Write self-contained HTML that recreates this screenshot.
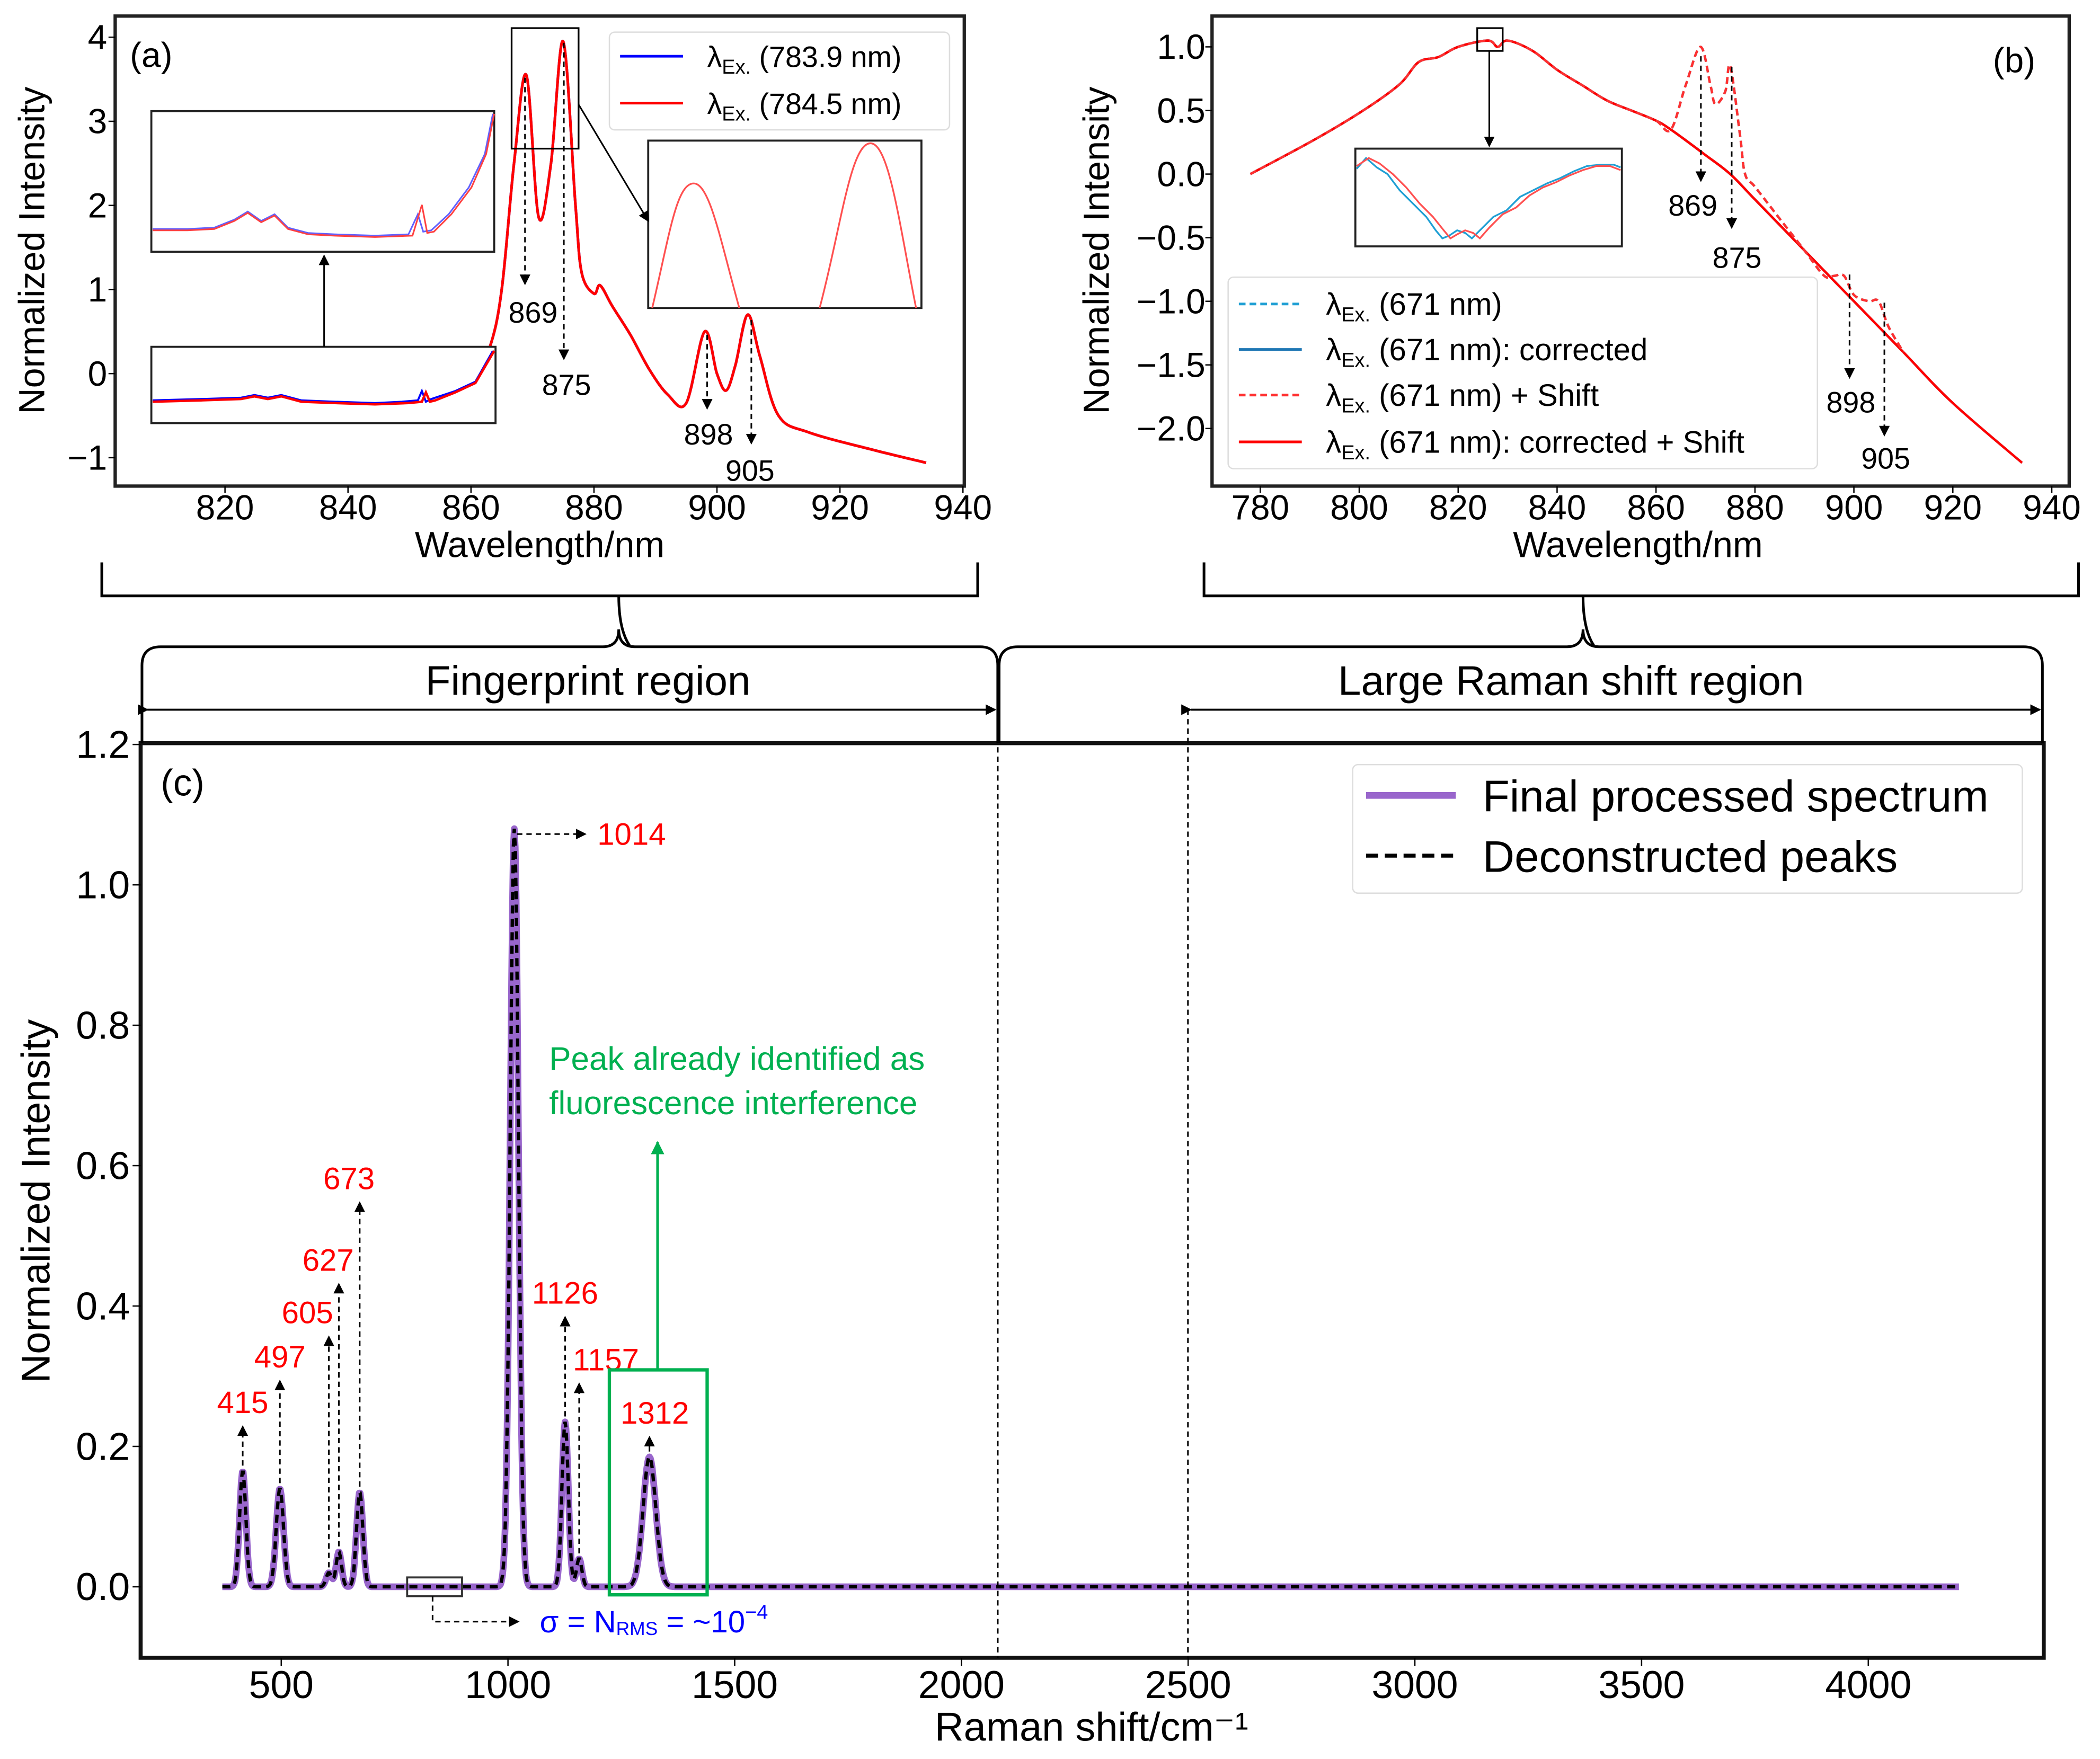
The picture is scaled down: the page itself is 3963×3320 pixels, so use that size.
<!DOCTYPE html>
<html><head><meta charset="utf-8"><style>
html,body{margin:0;padding:0;background:#fff}
svg{display:block;font-family:"Liberation Sans","DejaVu Sans",sans-serif}
</style></head><body>
<svg id="fig" xmlns="http://www.w3.org/2000/svg" width="3963" height="3320" viewBox="0 0 1568 1313.6">
<defs>
<marker id="ah" markerWidth="8" markerHeight="8" refX="7" refY="4" orient="auto" markerUnits="userSpaceOnUse"><path d="M0,0 L8,4 L0,8 z" fill="#000"/></marker>
<marker id="ahg" markerWidth="10" markerHeight="10" refX="9" refY="5" orient="auto" markerUnits="userSpaceOnUse"><path d="M0,0 L10,5 L0,10 z" fill="#00b050"/></marker>
<clipPath id="ca"><rect x="86" y="12" width="634" height="351"/></clipPath>
<clipPath id="cb"><rect x="905" y="12" width="640" height="351"/></clipPath>
<clipPath id="cc"><rect x="105" y="555" width="1421" height="683"/></clipPath>
</defs>
<g id="A"></g>
<g id="B"></g>
<g id="C"></g>
<g id="static" fill="none" stroke="#000" stroke-width="2">
<path d="M76,420 V445 H730 V420 M462,445 Q462,470 470,482"/>
<path d="M899,420 V445 H1552 V420 M1182,445 Q1182,470 1190,482"/>
<path d="M106,555 V497 Q106,483 120,483 H450 Q462,483 462,470 Q462,483 474,483 H732 Q745,483 745,497 V555"/>
<path d="M746,555 V497 Q746,483 760,483 H1170 Q1182,483 1182,470 Q1182,483 1194,483 H1511 Q1525,483 1525,497 V555"/>
<line x1="110" y1="530" x2="743" y2="530" marker-end="url(#ah)" marker-start="url(#ah)" stroke-width="1.5"/>
<line x1="889" y1="530" x2="1523" y2="530" marker-end="url(#ah)" marker-start="url(#ah)" stroke-width="1.5"/>
<line x1="745" y1="530" x2="745" y2="1238" stroke-width="1.2" stroke-dasharray="4,3"/>
<line x1="887" y1="530" x2="887" y2="1238" stroke-width="1.2" stroke-dasharray="4,3"/>
</g>
<text x="439" y="519" font-size="31" text-anchor="middle">Fingerprint region</text>
<text x="1173" y="519" font-size="31" text-anchor="middle">Large Raman shift region</text>
</svg>
<script>
// ---------- DATA ----------
const aWave = [808,810,820,830,840,850,852,853,855,860,863,865,867,869,871,873,875,877,878,880,881,883,886,889,892,895,898,900,901.5,903,905,907,910,915,925,934];
const aInt  = [-0.3,-0.3,-0.25,-0.28,-0.3,-0.3,-0.2,-0.3,-0.28,-0.1,0.3,1.0,2.5,3.55,1.86,2.5,3.95,2.0,1.2,0.95,1.05,0.8,0.45,0.05,-0.25,-0.35,0.5,0.0,-0.2,0.1,0.7,0.2,-0.5,-0.7,-0.9,-1.06];
const aTicksX = [820,840,860,880,900,920,940];
const aTicksY = [4,3,2,1,0,-1];
const bWave = [778,790,800,808,812,816,820,826,828,830,835,840,845,850,855,860,863];
const bInt  = [0.0,0.25,0.48,0.7,0.88,0.92,1.0,1.05,1.0,1.05,0.97,0.82,0.7,0.58,0.5,0.42,0.35];
const bRawWave = [863,866,869,871,872,874,875,877,878,880,885,890,894,896,898,900,903,905,907,910];
const bRawInt  = [0.35,0.7,1.0,0.7,0.55,0.65,0.85,0.3,0.0,-0.1,-0.35,-0.6,-0.8,-0.8,-0.8,-0.95,-1.0,-1.0,-1.2,-1.4];
const bCorWave = [863,870,875,880,890,900,910,920,934];
const bCorInt  = [0.35,0.15,0.0,-0.2,-0.6,-1.0,-1.4,-1.8,-2.27];
const bTicksX = [780,800,820,840,860,880,900,920,940];
const bTicksY = [1.0,0.5,0.0,-0.5,-1.0,-1.5,-2.0];
const cPeakPos = [415,497,605,627,673,1014,1126,1157,1312];
const cPeakAmp = [0.165,0.14,0.02,0.05,0.135,1.08,0.235,0.04,0.185];
const cPeakWid = [7,8,6,6,7,9,7,6,14];
const cTicksX = [500,1000,1500,2000,2500,3000,3500,4000];
const cTicksY = [1.2,1.0,0.8,0.6,0.4,0.2,0.0];
const cLabels = ['415','497','605','627','673','1014','1126','1157','1312'];
const cLabelY = [0.255,0.32,0.383,0.458,0.574,1.08,0.411,0.316,0.24];

const NS='http://www.w3.org/2000/svg';
function mk(parent,tag,attrs,text){const e=document.createElementNS(NS,tag);for(const k in attrs)e.setAttribute(k,attrs[k]);if(text!==undefined)e.textContent=text;parent.appendChild(e);return e;}
const A=document.getElementById('A'),B=document.getElementById('B'),C=document.getElementById('C');

const ax=v=>168+(v-820)*551/120, ay=v=>279-v*62.8;
const bx=v=>941+(v-780)*591/160, by=v=>130-v*95;
const cx=v=>210+(v-500)*1185/3500, cy=v=>1185-v*524.2;

function pts(xs,ys,fx,fy){return xs.map((x,i)=>fx(x).toFixed(1)+','+fy(ys[i]).toFixed(1)).join(' ');}
function smooth(xs,ys,fx,fy){
  const P=xs.map((x,i)=>[fx(x),fy(ys[i])]);
  let d='M'+P[0][0].toFixed(1)+','+P[0][1].toFixed(1);
  for(let i=0;i<P.length-1;i++){
    const p0=P[Math.max(0,i-1)],p1=P[i],p2=P[i+1],p3=P[Math.min(P.length-1,i+2)];
    const c1=[p1[0]+(p2[0]-p0[0])/6,p1[1]+(p2[1]-p0[1])/6];
    const c2=[p2[0]-(p3[0]-p1[0])/6,p2[1]-(p3[1]-p1[1])/6];
    d+=' C'+c1[0].toFixed(1)+','+c1[1].toFixed(1)+' '+c2[0].toFixed(1)+','+c2[1].toFixed(1)+' '+p2[0].toFixed(1)+','+p2[1].toFixed(1);
  }
  return d;
}

// ---------- PANEL A ----------
let g=mk(A,'g',{'clip-path':'url(#ca)'});
let l=mk(g,'path',{d:smooth(aWave,aInt,ax,ay),fill:'none',stroke:'#0000ff','stroke-width':2});

l=mk(g,'path',{d:smooth(aWave,aInt,ax,ay),fill:'none',stroke:'#ff0000','stroke-width':2});

let fr=mk(A,'rect',{x:86,y:12,width:634,height:351,fill:'none',stroke:'#222','stroke-width':2.5});

aTicksX.forEach(v=>{let t=mk(A,'text',{x:ax(v),y:388,'font-size':26,'text-anchor':'middle'},v);mk(A,'line',{x1:ax(v),x2:ax(v),y1:363,y2:368,stroke:'#000'});});
aTicksY.forEach(v=>{let t=mk(A,'text',{x:80,y:ay(v)+9,'font-size':26,'text-anchor':'end'},v<0?'\u2212'+(-v):v);mk(A,'line',{x1:81,x2:86,y1:ay(v),y2:ay(v),stroke:'#000'});});
let t=mk(A,'text',{x:403,y:416,'font-size':27,'text-anchor':'middle'},'Wavelength/nm');
t=mk(A,'text',{x:0,y:0,'font-size':27,'text-anchor':'middle',transform:'translate(33,187) rotate(-90)'},'Normalized Intensity');
t=mk(A,'text',{x:97,y:50,'font-size':26},'(a)');
let lg=mk(A,'g',{});
mk(lg,'rect',{x:455,y:24,width:254,height:73,rx:4,fill:'#fff',stroke:'#ddd'});
[['#0000ff','783.9 nm',42],['#ff0000','784.5 nm',77]].forEach(d=>{mk(lg,'line',{x1:463,x2:510,y1:d[2],y2:d[2],stroke:d[0],'stroke-width':2});let tt=mk(lg,'text',{x:528,y:d[2]+8,'font-size':22});tt.innerHTML='λ<tspan font-size="15" dy="5">Ex.</tspan><tspan dy="-5"> (' + d[1] + ')</tspan>';});
function inset(par,x,y,w,h,name){let r=mk(par,'rect',{x:x,y:y,width:w,height:h,fill:'#fff',stroke:'#222','stroke-width':1.5});}
inset(A,113,259,257,57,'inset-lower-a');
mk(A,'polyline',{points:'114,299 150,298 180,297 190,295 200,297 210,295 225,299 250,300 280,301 300,300 312,299 315,292 318,300 322,298 340,292 355,285 368,262',fill:'none',stroke:'#0000ff','stroke-width':1.5});
mk(A,'polyline',{points:'114,300 150,299 180,298 190,296 200,298 210,296 225,300 250,301 280,302 305,301 315,300 318,293 321,300 325,299 340,293 355,286 369,262',fill:'none',stroke:'#ff0000','stroke-width':1.8});
inset(A,113,83,256,105,'inset-upper-a');
mk(A,'polyline',{points:'114,171 140,171 160,170 175,164 185,158 195,165 205,160 215,170 230,174 250,175 280,176 305,175 312,160 316,173 322,172 335,160 350,140 362,115 368,85',fill:'none',stroke:'#6060ff','stroke-width':1.2});
mk(A,'polyline',{points:'114,172 140,172 160,171 175,165 185,159 195,166 205,161 215,171 230,175 250,176 280,177 308,176 315,153 319,174 324,173 337,160 352,140 363,115 369,85',fill:'none',stroke:'#ff4040','stroke-width':1.2});
let ar=mk(A,'line',{x1:242,y1:259,x2:242,y2:191,stroke:'#000','stroke-width':1.2,'marker-end':'url(#ah)'});
inset(A,484,105,204,125,'inset-right-a');
mk(A,'path',{d:'M487,230 C500,175 505,137 518,137 C530,137 538,180 552,230 M612,230 C628,170 635,107 650,107 C664,107 672,170 684,230',fill:'none',stroke:'#ff5050','stroke-width':1.3});
mk(A,'rect',{x:382,y:21,width:50,height:90,fill:'none',stroke:'#000','stroke-width':1.3});
mk(A,'line',{x1:432,y1:78,x2:484,y2:165,stroke:'#000','stroke-width':1.2,'marker-end':'url(#ah)'});
function darrow(par,x,y1,y2,lab,lx,ly,name){let a=mk(par,'line',{x1:x,y1:y1,x2:x,y2:y2,stroke:'#000','stroke-width':1.2,'stroke-dasharray':'4,3','marker-end':'url(#ah)'});let tt=mk(par,'text',{x:lx,y:ly,'font-size':22,'text-anchor':'middle'},lab);}
darrow(A,392,58,212,'869',398,241,'peak-869-a');
darrow(A,421,32,268,'875',423,295,'peak-875-a');
darrow(A,528,250,305,'898',529,332,'peak-898-a');
darrow(A,561,239,331,'905',560,359,'peak-905-a');

// ---------- PANEL B ----------
g=mk(B,'g',{'clip-path':'url(#cb)'});
const fullW=bWave.concat(bRawWave.slice(1)), fullI=bInt.concat(bRawInt.slice(1));
const corW=bWave.concat(bCorWave.slice(1)), corI=bInt.concat(bCorInt.slice(1));
[['#1f77b4',corW,corI,null,'series-671-corrected'],['#ff0000',corW,corI,null,'series-671-corrected-shift'],['#1f9fd4',fullW,fullI,'5,3','series-671'],['#ff3030',fullW,fullI,'5,3','series-671-shift']].forEach(s=>{let p=mk(g,'path',{d:smooth(s[1],s[2],bx,by),fill:'none',stroke:s[0],'stroke-width':1.8});if(s[3])p.setAttribute('stroke-dasharray',s[3]);});
fr=mk(B,'rect',{x:905,y:12,width:640,height:351,fill:'none',stroke:'#222','stroke-width':2.5});

bTicksX.forEach(v=>{let tt=mk(B,'text',{x:bx(v),y:388,'font-size':26,'text-anchor':'middle'},v);mk(B,'line',{x1:bx(v),x2:bx(v),y1:363,y2:368,stroke:'#000'});});
bTicksY.forEach(v=>{let tt=mk(B,'text',{x:900,y:by(v)+9,'font-size':26,'text-anchor':'end'},(v<0?'\u2212':'')+Math.abs(v).toFixed(1));mk(B,'line',{x1:900,x2:905,y1:by(v),y2:by(v),stroke:'#000'});});
t=mk(B,'text',{x:1223,y:416,'font-size':27,'text-anchor':'middle'},'Wavelength/nm');
t=mk(B,'text',{x:0,y:0,'font-size':27,'text-anchor':'middle',transform:'translate(828,187) rotate(-90)'},'Normalized Intensity');
t=mk(B,'text',{x:1488,y:54,'font-size':26},'(b)');
inset(B,1012,111,199,73,'inset-b');
mk(B,'polyline',{points:'1013,126 1020,118 1028,125 1036,130 1045,142 1055,152 1065,162 1072,172 1077,178 1082,176 1088,172 1094,174 1099,178 1105,172 1115,162 1125,157 1135,147 1145,142 1155,137 1165,133 1175,128 1185,124 1195,123 1205,123 1210,125',fill:'none',stroke:'#1f9fd4','stroke-width':1.3});
mk(B,'polyline',{points:'1013,124 1022,118 1030,122 1040,130 1050,140 1060,152 1070,162 1078,172 1083,178 1088,175 1094,172 1100,174 1105,178 1112,170 1122,160 1132,155 1142,146 1152,140 1162,136 1172,131 1182,127 1192,124 1202,124 1210,127',fill:'none',stroke:'#ff5050','stroke-width':1.3});
mk(B,'rect',{x:1103,y:21,width:19,height:17,fill:'none',stroke:'#000','stroke-width':1.3});
mk(B,'line',{x1:1112,y1:38,x2:1112,y2:109,stroke:'#000','stroke-width':1.2,'marker-end':'url(#ah)'});
lg=mk(B,'g',{});
mk(lg,'rect',{x:917,y:207,width:440,height:143,rx:4,fill:'#fff','fill-opacity':0.85,stroke:'#ddd'});
[['#1f9fd4','5,3','(671 nm)',227],['#1f77b4',null,'(671 nm): corrected',261],['#ff3030','5,3','(671 nm) + Shift',295],['#ff0000',null,'(671 nm): corrected + Shift',330]].forEach(d=>{let ln=mk(lg,'line',{x1:925,x2:972,y1:d[3],y2:d[3],stroke:d[0],'stroke-width':2});if(d[1])ln.setAttribute('stroke-dasharray',d[1]);let tt=mk(lg,'text',{x:990,y:d[3]+8,'font-size':23});tt.innerHTML='λ<tspan font-size="15" dy="5">Ex.</tspan><tspan dy="-5"> '+d[2]+'</tspan>';});
darrow(B,1270,42,135,'869',1264,161,'peak-869-b');
darrow(B,1293,50,170,'875',1297,200,'peak-875-b');
darrow(B,1381,205,282,'898',1382,308,'peak-898-b');
darrow(B,1407,226,325,'905',1408,350,'peak-905-b');

// ---------- PANEL C ----------
function spec(x){let s=0;for(let i=0;i<cPeakPos.length;i++){const d=(x-cPeakPos[i])/cPeakWid[i];s+=cPeakAmp[i]*Math.exp(-0.5*d*d);}return s;}
const cx0=[],cy0=[];for(let x=370;x<=4200;x+=2){cx0.push(x);cy0.push(spec(x));}
g=mk(C,'g',{'clip-path':'url(#cc)'});
l=mk(g,'polyline',{points:pts(cx0,cy0,cx,cy),fill:'none',stroke:'#9966cc','stroke-width':5,'stroke-linejoin':'round'});

l=mk(g,'polyline',{points:pts(cx0,cy0,cx,cy),fill:'none',stroke:'#000','stroke-width':2.5,'stroke-dasharray':'6,4'});

fr=mk(C,'rect',{x:105,y:555,width:1421,height:683,fill:'none',stroke:'#111','stroke-width':3});

cTicksX.forEach(v=>{let tt=mk(C,'text',{x:cx(v),y:1268,'font-size':29,'text-anchor':'middle'},v);mk(C,'line',{x1:cx(v),x2:cx(v),y1:1238,y2:1244,stroke:'#000'});});
cTicksY.forEach(v=>{let tt=mk(C,'text',{x:97,y:cy(v)+10,'font-size':29,'text-anchor':'end'},v.toFixed(1));mk(C,'line',{x1:99,x2:105,y1:cy(v),y2:cy(v),stroke:'#000'});});
t=mk(C,'text',{x:815,y:1300,'font-size':30,'text-anchor':'middle'},'Raman shift/cm\u207B\u00B9');
t=mk(C,'text',{x:0,y:0,'font-size':30,'text-anchor':'middle',transform:'translate(37,897) rotate(-90)'},'Normalized Intensity');
t=mk(C,'text',{x:120,y:594,'font-size':28},'(c)');
lg=mk(C,'g',{});
mk(lg,'rect',{x:1010,y:571,width:500,height:96,rx:4,fill:'#fff',stroke:'#ddd'});
mk(lg,'line',{x1:1020,x2:1087,y1:594,y2:594,stroke:'#9966cc','stroke-width':5});
mk(lg,'line',{x1:1020,x2:1087,y1:639,y2:639,stroke:'#000','stroke-width':3,'stroke-dasharray':'9,5'});
t=mk(lg,'text',{x:1107,y:606,'font-size':33},'Final processed spectrum');
t=mk(lg,'text',{x:1107,y:651,'font-size':33},'Deconstructed peaks');
for(let i=0;i<cPeakPos.length;i++){
  const px=cx(cPeakPos[i]), top=cy(cPeakAmp[i])-4;
  if(cLabels[i]==='1014'){
    let a=mk(C,'line',{x1:px+2,y1:cy(cLabelY[i])+4,x2:437,y2:cy(cLabelY[i])+4,stroke:'#000','stroke-width':1.2,'stroke-dasharray':'4,3','marker-end':'url(#ah)'});
    
    let tt=mk(C,'text',{x:446,y:cy(cLabelY[i])+12,'font-size':23,fill:'#ff0000'},cLabels[i]);
    
  } else {
    const ly=cy(cLabelY[i]);
    let a=mk(C,'line',{x1:px,y1:top,x2:px,y2:ly+14,stroke:'#000','stroke-width':1.2,'stroke-dasharray':'4,3','marker-end':'url(#ah)'});
    
    const off={'605':-16,'627':-8,'673':-8,'1126':0,'1157':20,'1312':4}[cLabels[i]]||0;
    let tt=mk(C,'text',{x:px+off,y:ly+4,'font-size':23,fill:'#ff0000','text-anchor':'middle'},cLabels[i]);
    
  }
}
let gb=mk(C,'rect',{x:455,y:1023,width:73,height:168,fill:'none',stroke:'#00b050','stroke-width':2.5});

ar=mk(C,'line',{x1:491,y1:1023,x2:491,y2:853,stroke:'#00b050','stroke-width':2,'marker-end':'url(#ahg)'});

t=mk(C,'text',{x:410,y:799,'font-size':24.5,fill:'#00b050'},'Peak already identified as');
t=mk(C,'text',{x:410,y:832,'font-size':24.5,fill:'#00b050'},'fluorescence  interference');
let nb=mk(C,'rect',{x:304,y:1178,width:41,height:14,fill:'none',stroke:'#333','stroke-width':1.5});

ar=mk(C,'polyline',{points:'323,1192 323,1211 387,1211',fill:'none',stroke:'#000','stroke-width':1.2,'stroke-dasharray':'4,3','marker-end':'url(#ah)'});

t=mk(C,'text',{x:403,y:1219,'font-size':23,fill:'#0000ff'});
t.innerHTML='σ = N<tspan font-size="14" dy="2">RMS</tspan><tspan dy="-2"> = ~10</tspan><tspan font-size="15" dy="-10">−4</tspan>';

</script>
</body></html>
